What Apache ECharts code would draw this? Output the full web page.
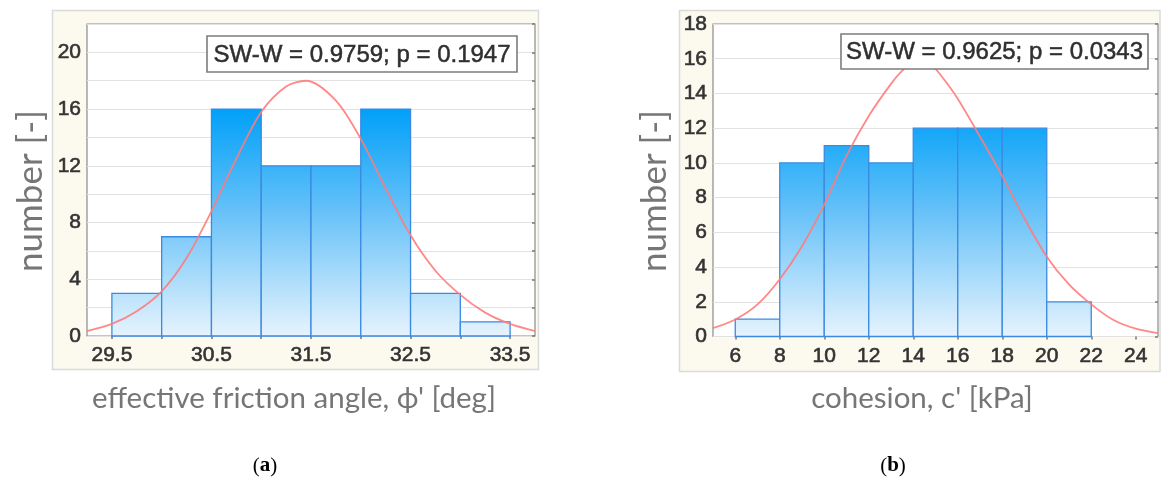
<!DOCTYPE html>
<html>
<head>
<meta charset="utf-8">
<title>Histograms of shear strength parameters</title>
<script src="https://cdn.jsdelivr.net/npm/echarts@6/dist/echarts.min.js"></script>
<style>
  html, body { margin: 0; padding: 0; background: #ffffff; }
  #chart { width: 1161px; height: 486px; }
</style>
</head>
<body>
<div id="chart"></div>
<script>
// (a) effective friction angle: bins of 0.5 deg
const phiBinStart = [29.5, 30.0, 30.5, 31.0, 31.5, 32.0, 32.5, 33.0];
const phiBinWidth = 0.5;
const phiCounts = [3, 7, 16, 12, 12, 16, 3, 1];
const phiCurveX = [29.25, 29.5, 29.75, 30.0, 30.25, 30.5, 30.75, 31.0, 31.25, 31.45, 31.75, 32.0, 32.25, 32.5, 32.75, 33.0, 33.25, 33.5, 33.75];
const phiCurveY = [0.35, 0.85, 1.75, 3.15, 5.5, 8.8, 12.5, 15.8, 17.6, 18.0, 16.6, 13.9, 10.4, 7.1, 4.6, 2.9, 1.65, 0.85, 0.35];
const phiTickLabels = [29.5, 30.5, 31.5, 32.5, 33.5];
const phiTopTicks = [29.5, 30.0, 30.5, 31.0, 31.5, 32.0, 32.5, 33.0, 33.5];
const phiCountLabels = [0, 4, 8, 12, 16, 20];
const phiStatText = 'SW-W = 0.9759; p = 0.1947';

// (b) cohesion: bins of 2 kPa
const cBinStart = [6, 8, 10, 12, 14, 16, 18, 20];
const cBinWidth = 2;
const cCounts = [1, 10, 11, 10, 12, 12, 12, 2];
const cCurveX = [5, 6, 7, 8, 9, 10, 11, 12, 13, 13.5, 14.3, 14.85, 15.3, 16, 16.8, 18, 19, 20, 21, 22, 23, 24, 25];
const cCurveY = [0.48, 0.98, 1.85, 3.3, 5.2, 7.6, 10.4, 12.7, 14.55, 15.3, 16.1, 15.6, 14.95, 13.7, 11.95, 9.25, 6.8, 4.6, 3.0, 1.85, 0.95, 0.45, 0.2];
const cTickLabels = [6, 8, 10, 12, 14, 16, 18, 20, 22, 24];
const cCountLabels = [0, 2, 4, 6, 8, 10, 12, 14, 16, 18];
const cStatText = 'SW-W = 0.9625; p = 0.0343';

const chart = echarts.init(document.getElementById('chart'), null, { renderer: 'canvas' });

const gridA = { left: 87, top: 24, width: 448, height: 312 };
const gridB = { left: 713, top: 24, width: 445, height: 312.5 };

function barFill(g) {
  return new echarts.graphic.LinearGradient(0, g.top, 0, g.top + g.height, [
    { offset: 0, color: '#008cef' },
    { offset: 0.27, color: '#00a0f8' },
    { offset: 0.6, color: '#66c1f8' },
    { offset: 1, color: '#e6f3fd' }
  ], true);
}

function histogramItems(starts, width, counts) {
  return starts.map((s, i) => [s, s + width, counts[i]]);
}

function barRenderer(fill) {
  return function (params, api) {
    const p0 = api.coord([api.value(0), 0]);
    const p1 = api.coord([api.value(1), api.value(2)]);
    return {
      type: 'rect',
      shape: { x: p0[0], y: p1[1], width: p1[0] - p0[0], height: p0[1] - p1[1] },
      style: { fill: fill, stroke: '#3a8ae2', lineWidth: 1.3 }
    };
  };
}

const tickFont = {
  fontFamily: 'Liberation Sans, Arial, sans-serif', fontSize: 21, color: '#333333',
  textBorderColor: '#333333', textBorderWidth: 0.6
};

function bottomAxis(gridIndex, min, max, labels) {
  return {
    type: 'value', gridIndex, min, max, position: 'bottom',
    axisLine: { show: false },
    axisTick: { show: false },
    splitLine: { show: false },
    axisLabel: Object.assign({ customValues: labels, margin: 9 }, tickFont)
  };
}
function topAxis(gridIndex, min, max, ticks) {
  return {
    type: 'value', gridIndex, min, max, position: 'top',
    axisLine: { show: false },
    axisTick: { show: true, inside: true, length: 3, customValues: ticks, lineStyle: { color: '#777', width: 1.5 } },
    axisLabel: { show: false },
    splitLine: { show: false }
  };
}
function leftAxis(gridIndex, min, max, labels) {
  return {
    type: 'value', gridIndex, min, max, interval: 2, position: 'left',
    axisLine: { show: false },
    axisTick: { show: false },
    splitLine: { show: true, lineStyle: { color: '#e2e2e2', width: 1.2 } },
    axisLabel: Object.assign({ customValues: labels, margin: 6 }, tickFont)
  };
}
function rightAxis(gridIndex, min, max) {
  return {
    type: 'value', gridIndex, min, max, interval: 2, position: 'right',
    axisLine: { show: false },
    axisTick: { show: true, inside: true, length: 3, lineStyle: { color: '#777', width: 1.5 } },
    axisLabel: { show: false },
    splitLine: { show: false }
  };
}

// white box holding the Shapiro-Wilk result, drawn above the plot
function statBox(cx, cy, w, h, text) {
  return [
    { type: 'rect', zlevel: 5, z: 100, shape: { x: cx - w / 2, y: cy - h / 2, width: w, height: h },
      style: { fill: '#ffffff', stroke: '#7c7c7c', lineWidth: 1.6 } },
    { type: 'text', zlevel: 5, z: 101, x: cx, y: cy + 1,
      style: { text: text, align: 'center', verticalAlign: 'middle',
               font: '24px "Liberation Sans", Arial, sans-serif', fill: '#2f2f2f',
               stroke: '#2f2f2f', lineWidth: 0.5 } }
  ];
}

const nameFont = '"Lato", "Open Sans", sans-serif';

const option = {
  animation: false,
  backgroundColor: '#ffffff',
  grid: [
    Object.assign({ show: true, backgroundColor: '#ffffff', borderColor: '#8a8a8a', borderWidth: 1.2 }, gridA),
    Object.assign({ show: true, backgroundColor: '#ffffff', borderColor: '#8a8a8a', borderWidth: 1.2 }, gridB)
  ],
  xAxis: [
    bottomAxis(0, 29.25, 33.75, phiTickLabels),
    topAxis(0, 29.25, 33.75, phiTopTicks),
    bottomAxis(1, 5, 25, cTickLabels),
    topAxis(1, 5, 25, cTickLabels)
  ],
  yAxis: [
    leftAxis(0, 0, 22, phiCountLabels),
    rightAxis(0, 0, 22),
    leftAxis(1, 0, 18, cCountLabels),
    rightAxis(1, 0, 18)
  ],
  graphic: [
    // panel backgrounds
    { type: 'rect', z: -10, shape: { x: 52.5, y: 10.5, width: 486, height: 359 },
      style: { fill: '#fcf9ef', stroke: '#dadada', lineWidth: 1.5 } },
    { type: 'rect', z: -10, shape: { x: 679.5, y: 10.5, width: 480.5, height: 361 },
      style: { fill: '#fcf9ef', stroke: '#dadada', lineWidth: 1.5 } },
    ...statBox(362, 54, 310, 36, phiStatText),
    ...statBox(994.5, 51.5, 307, 35, cStatText),
    // axis titles
    { type: 'text', x: 31, y: 191, rotation: Math.PI / 2,
      style: { text: 'number [-]', align: 'center', verticalAlign: 'middle', font: '35px ' + nameFont, fill: '#767676' } },
    { type: 'text', x: 655, y: 191, rotation: Math.PI / 2,
      style: { text: 'number [-]', align: 'center', verticalAlign: 'middle', font: '35px ' + nameFont, fill: '#767676' } },
    { type: 'text', x: 294, y: 398,
      style: { text: 'effective friction angle, \u03D5\' [deg]', align: 'center', verticalAlign: 'middle', font: '29.5px ' + nameFont, fill: '#767676' } },
    { type: 'text', x: 922, y: 398,
      style: { text: 'cohesion, c\' [kPa]', align: 'center', verticalAlign: 'middle', font: '29.5px ' + nameFont, fill: '#767676' } },
    // panel captions
    { type: 'text', x: 265, y: 466,
      style: { text: '{p|(}{b|a}{p|)}', align: 'center', verticalAlign: 'middle',
               rich: { p: { font: '21px "Liberation Serif", serif', fill: '#000' },
                       b: { font: 'bold 21px "Liberation Serif", serif', fill: '#000' } } } },
    { type: 'text', x: 893, y: 466,
      style: { text: '{p|(}{b|b}{p|)}', align: 'center', verticalAlign: 'middle',
               rich: { p: { font: '21px "Liberation Serif", serif', fill: '#000' },
                       b: { font: 'bold 21px "Liberation Serif", serif', fill: '#000' } } } }
  ],
  series: [
    {
      type: 'custom', name: 'phi histogram', xAxisIndex: 0, yAxisIndex: 0, z: 2,
      renderItem: barRenderer(barFill(gridA)),
      encode: { x: [0, 1], y: 2 },
      data: histogramItems(phiBinStart, phiBinWidth, phiCounts)
    },
    {
      type: 'line', name: 'phi normal fit', xAxisIndex: 0, yAxisIndex: 0, z: 5,
      smooth: 0.3, showSymbol: false, clip: true,
      lineStyle: { color: '#ff7b7b', width: 1.8, opacity: 0.9 },
      data: phiCurveX.map((x, i) => [x, phiCurveY[i]])
    },
    {
      type: 'custom', name: 'c histogram', xAxisIndex: 2, yAxisIndex: 2, z: 2,
      renderItem: barRenderer(barFill(gridB)),
      encode: { x: [0, 1], y: 2 },
      data: histogramItems(cBinStart, cBinWidth, cCounts)
    },
    {
      type: 'line', name: 'c normal fit', xAxisIndex: 2, yAxisIndex: 2, z: 5,
      smooth: 0.3, showSymbol: false, clip: true,
      lineStyle: { color: '#ff7b7b', width: 1.8, opacity: 0.9 },
      data: cCurveX.map((x, i) => [x, cCurveY[i]])
    }
  ]
};

chart.setOption(option);
</script>
</body>
</html>
